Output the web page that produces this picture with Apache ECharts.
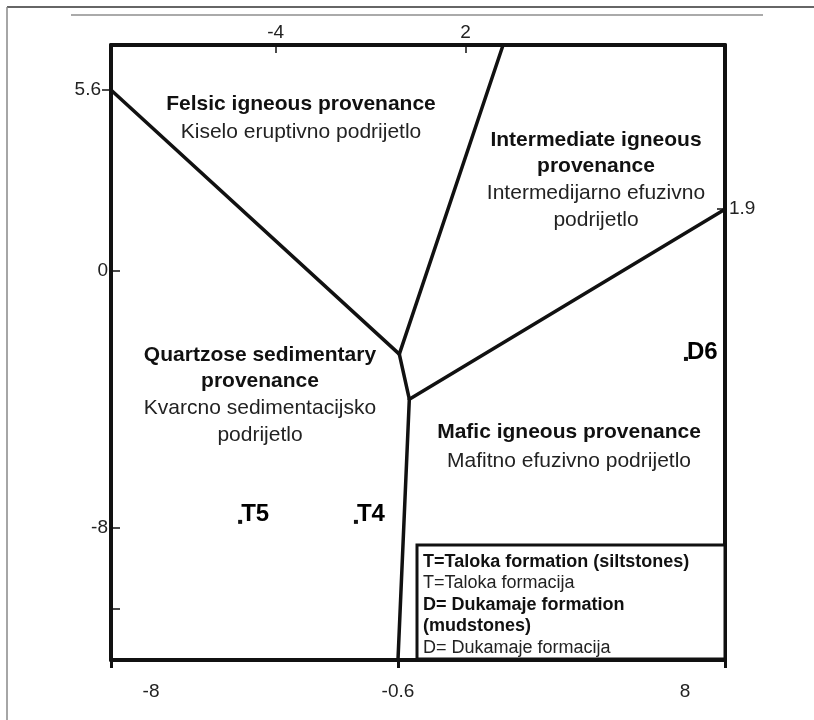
<!DOCTYPE html>
<html>
<head>
<meta charset="utf-8">
<script src="https://cdn.jsdelivr.net/npm/echarts@6/dist/echarts.min.js"></script>
<style>
  html, body { margin: 0; padding: 0; background: #fff; }
  #chart { width: 814px; height: 720px; }
</style>
</head>
<body>
<div id="chart"></div>
<script>
// Discriminant function axes (F1 horizontal, F2 vertical)
const f1Range = [-9.2, 9.2];
const f2Range = [-12.1, 7.0];
const topScaleRange = [-9.2, 10.2];
const bottomTickLabels = [-8, -0.6, 8];
const bottomTickMarks = [-9.2, -0.6, 9.2];
const topTickLabels = [-4, 2];
const leftOuterTickLabels = [5.6];
const leftInnerTickLabels = [0, -8];
const leftInnerTickMarks = [0, -8, -10.5];
const rightTickLabels = [1.9];

// Provenance field boundaries as [F1, F2] vertices
const felsicQuartzoseBoundary = [[-9.2, 5.6], [-0.56, -2.6]];
const felsicIntermediateBoundary = [[2.55, 7.0], [-0.56, -2.6]];
const centralBoundary = [[-0.56, -2.6], [-0.26, -4.0]];
const intermediateMaficBoundary = [[-0.26, -4.0], [9.2, 1.9]];
const quartzoseMaficBoundary = [[-0.26, -4.0], [-0.6, -12.1]];

// Samples
const sampleNames = ['T5', 'T4', 'D6'];
const sampleF1 = [-5.33, -1.86, 8.03];
const sampleF2 = [-7.81, -7.81, -2.75];

// Field names (bold English, regular Croatian)
const felsicLines = [['Felsic igneous provenance', 'b'], ['Kiselo eruptivno podrijetlo', 'r']];
const intermediateLines = [['Intermediate igneous', 'b'], ['provenance', 'b'], ['Intermedijarno efuzivno', 'r'], ['podrijetlo', 'r']];
const quartzoseLines = [['Quartzose sedimentary', 'b'], ['provenance', 'b'], ['Kvarcno sedimentacijsko', 'r'], ['podrijetlo', 'r']];
const maficLines = [['Mafic igneous provenance', 'b'], ['Mafitno efuzivno podrijetlo', 'r']];

// Key
const keyLines = [
  ['T=Taloka formation (siltstones)', 'b'],
  ['T=Taloka formacija', 'r'],
  ['D= Dukamaje formation', 'b'],
  ['(mudstones)', 'b'],
  ['D= Dukamaje formacija', 'r']
];

const FONT = "'Liberation Sans', Arial, Helvetica, sans-serif";
const INK = '#111';
const TEXT = '#222';

const chart = echarts.init(document.getElementById('chart'), null, { renderer: 'canvas' });

function boundarySeries(points) {
  return {
    type: 'line',
    data: points,
    xAxisIndex: 0,
    yAxisIndex: 0,
    symbol: 'none',
    clip: false,
    silent: true,
    lineStyle: { color: INK, width: 3.5, cap: 'round', join: 'round' },
    z: 3
  };
}

function textBlock(lines, cx, topY, lineGap, size) {
  return lines.map(function (ln, i) {
    return {
      type: 'text',
      x: cx,
      y: topY + i * lineGap,
      z: 10,
      style: {
        text: ln[0],
        font: (ln[1] === 'b' ? 'bold ' : '') + size + 'px ' + FONT,
        fill: ln[1] === 'b' ? INK : TEXT,
        textAlign: 'center',
        textVerticalAlign: 'middle'
      }
    };
  });
}

const keyBox = { x: 417, y: 545, w: 308, h: 114 };
const keyElements = [{
  type: 'rect',
  shape: { x: keyBox.x, y: keyBox.y, width: keyBox.w, height: keyBox.h },
  style: { fill: '#fff', stroke: INK, lineWidth: 3 },
  z: 20
}].concat(keyLines.map(function (ln, i) {
  return {
    type: 'text',
    x: 423,
    y: 562 + i * 21.5,
    z: 21,
    style: {
      text: ln[0],
      font: (ln[1] === 'b' ? 'bold ' : '') + '18px ' + FONT,
      fill: ln[1] === 'b' ? INK : TEXT,
      textAlign: 'left',
      textVerticalAlign: 'middle'
    }
  };
}));

const frameElements = [
  { type: 'line', shape: { x1: 7, y1: 7, x2: 814, y2: 7 }, style: { stroke: '#333', lineWidth: 1.5 }, z: 1 },
  { type: 'line', shape: { x1: 7, y1: 7, x2: 7, y2: 720 }, style: { stroke: '#888', lineWidth: 1.5 }, z: 1 },
  { type: 'line', shape: { x1: 71, y1: 15, x2: 763, y2: 15 }, style: { stroke: '#aaa', lineWidth: 2 }, z: 1 }
];

const axisLabelBase = { fontSize: 19, color: TEXT, fontFamily: FONT };

const option = {
  backgroundColor: '#fff',
  animation: false,
  grid: { left: 111, top: 45, width: 614, height: 615, containLabel: false },
  xAxis: [
    {
      type: 'value', position: 'bottom', min: f1Range[0], max: f1Range[1],
      splitLine: { show: false },
      axisLine: { show: true, onZero: false, lineStyle: { color: INK, width: 4 } },
      axisTick: { show: true, customValues: bottomTickMarks, length: 8, lineStyle: { color: INK, width: 3 } },
      axisLabel: Object.assign({ customValues: bottomTickLabels, margin: 22 }, axisLabelBase)
    },
    {
      type: 'value', position: 'top', min: topScaleRange[0], max: topScaleRange[1],
      splitLine: { show: false },
      axisLine: { show: true, onZero: false, lineStyle: { color: INK, width: 4 } },
      axisTick: { show: true, inside: true, customValues: topTickLabels, length: 8, lineStyle: { color: INK, width: 1.5 } },
      axisLabel: Object.assign({ customValues: topTickLabels, margin: 3 }, axisLabelBase)
    }
  ],
  yAxis: [
    {
      type: 'value', position: 'left', min: f2Range[0], max: f2Range[1],
      splitLine: { show: false },
      axisLine: { show: true, onZero: false, lineStyle: { color: INK, width: 4 } },
      axisTick: { show: true, customValues: leftOuterTickLabels, length: 9, lineStyle: { color: INK, width: 1.5 } },
      axisLabel: Object.assign({ customValues: leftOuterTickLabels, margin: 10 }, axisLabelBase)
    },
    {
      type: 'value', position: 'left', offset: 0, min: f2Range[0], max: f2Range[1],
      splitLine: { show: false },
      axisLine: { show: false, onZero: false },
      axisTick: { show: true, inside: true, customValues: leftInnerTickMarks, length: 9, lineStyle: { color: INK, width: 1.5 } },
      axisLabel: Object.assign({ customValues: leftInnerTickLabels, margin: 3 }, axisLabelBase)
    },
    {
      type: 'value', position: 'right', min: f2Range[0], max: f2Range[1],
      splitLine: { show: false },
      axisLine: { show: true, onZero: false, lineStyle: { color: INK, width: 4 } },
      axisTick: { show: true, inside: true, customValues: rightTickLabels, length: 8, lineStyle: { color: INK, width: 1.5 } },
      axisLabel: Object.assign({ customValues: rightTickLabels, margin: 4 }, axisLabelBase)
    }
  ],
  series: [
    boundarySeries(felsicQuartzoseBoundary),
    boundarySeries(felsicIntermediateBoundary),
    boundarySeries(centralBoundary),
    boundarySeries(intermediateMaficBoundary),
    boundarySeries(quartzoseMaficBoundary),
    {
      type: 'scatter',
      xAxisIndex: 0,
      yAxisIndex: 0,
      data: sampleNames.map(function (n, i) { return { name: n, value: [sampleF1[i], sampleF2[i]] }; }),
      symbol: 'rect',
      symbolSize: 4,
      itemStyle: { color: INK, opacity: 1 },
      label: {
        show: true,
        position: 'right',
        distance: 0,
        offset: [-1, -7],
        formatter: '{b}',
        fontFamily: FONT,
        fontWeight: 'bold',
        fontSize: 24,
        color: '#000',
        opacity: 1
      },
      emphasis: { disabled: true },
      z: 5
    }
  ],
  graphic: frameElements
    .concat(textBlock(felsicLines, 301, 104, 28, 21))
    .concat(textBlock(intermediateLines, 596, 140, 26.7, 21))
    .concat(textBlock(quartzoseLines, 260, 355, 26.7, 21))
    .concat(textBlock(maficLines, 569, 432, 29, 21))
    .concat(keyElements)
};

chart.setOption(option);
</script>
</body>
</html>
